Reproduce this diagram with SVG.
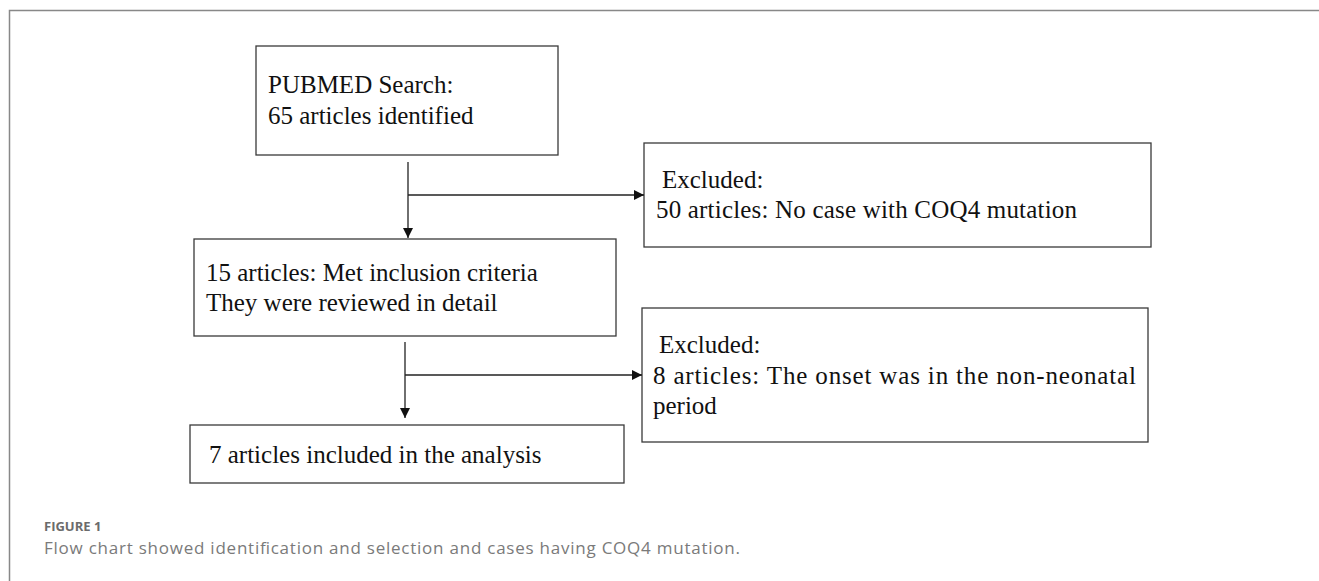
<svg xmlns="http://www.w3.org/2000/svg" width="1319" height="581" viewBox="0 0 1319 581">
<style>
.box{fill:#fff;stroke:#3a3a3a;stroke-width:1.3}
.t{font-family:"Liberation Serif","Times New Roman",serif;font-size:25px;fill:#111}
.ln{stroke:#222;stroke-width:1.3;fill:none}
</style>
<defs>
<marker id="ah" viewBox="0 0 10 10" refX="10" refY="5" markerWidth="10" markerHeight="10" markerUnits="userSpaceOnUse" orient="auto">
<path d="M0,0 L10,5 L0,10 Z" fill="#111"/>
</marker>
</defs>
<rect width="1319" height="581" fill="#fff"/>
<path d="M9.5,600 V10.5 H1330" fill="none" stroke="#888" stroke-width="1.5"/>
<g id="n1">
<rect class="box" x="256" y="46" width="302" height="109"/>
<text class="t" x="268" y="93">PUBMED Search:</text>
<text class="t" x="268" y="124">65 articles identified</text>
</g>
<g id="n2">
<rect class="box" x="644" y="143" width="507" height="104"/>
<text class="t" x="662" y="188">Excluded:</text>
<text class="t" x="656" y="218" textLength="421">50 articles: No case with COQ4 mutation</text>
</g>
<g id="n3">
<rect class="box" x="194" y="239" width="422" height="97"/>
<text class="t" x="206" y="281">15 articles: Met inclusion criteria</text>
<text class="t" x="206" y="311">They were reviewed in detail</text>
</g>
<g id="n4">
<rect class="box" x="642" y="308" width="506" height="134"/>
<text class="t" x="659" y="353">Excluded:</text>
<text class="t" x="653" y="384" textLength="483" lengthAdjust="spacing">8 articles: The onset was in the non-neonatal</text>
<text class="t" x="653" y="414">period</text>
</g>
<g id="n5">
<rect class="box" x="190" y="425" width="434" height="58"/>
<text class="t" x="209" y="463">7 articles included in the analysis</text>
</g>
<g id="connectors">
<line class="ln" x1="408" y1="162" x2="408" y2="238" marker-end="url(#ah)"/>
<line class="ln" x1="408" y1="195" x2="644" y2="195" marker-end="url(#ah)"/>
<line class="ln" x1="405" y1="342" x2="405" y2="418" marker-end="url(#ah)"/>
<line class="ln" x1="405" y1="375" x2="642" y2="375" marker-end="url(#ah)"/>
</g>
<text x="44" y="531" font-family="'Open Sans',sans-serif" font-size="13" font-weight="bold" fill="#6b6b6b">FIGURE 1</text>
<text x="44" y="554" font-family="'Open Sans',sans-serif" font-size="17" fill="#7a7a7a" textLength="696">Flow chart showed identification and selection and cases having COQ4 mutation.</text>
</svg>
